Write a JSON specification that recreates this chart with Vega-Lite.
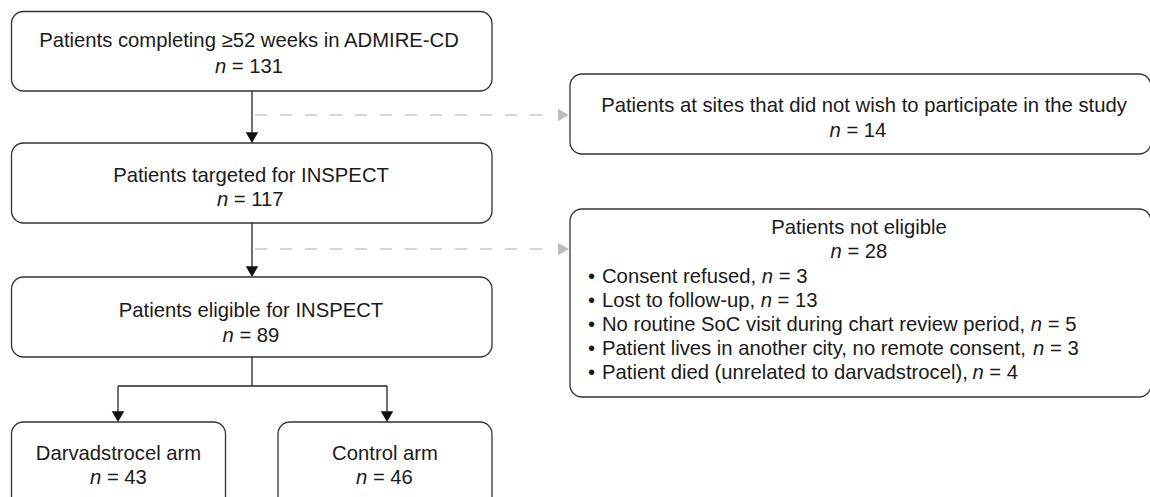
{
  "$schema": "https://vega.github.io/schema/vega-lite/v6.json",
  "width": 1150,
  "height": 497,
  "autosize": {"type": "none"},
  "padding": 0,
  "background": "white",
  "config": {"view": {"stroke": null}},
  "datasets": {
    "boxes": [
      {"x1": 11.5, "x2": 492, "y1": 11.5, "y2": 91},
      {"x1": 11.5, "x2": 492, "y1": 143, "y2": 223},
      {"x1": 11.5, "x2": 492, "y1": 277, "y2": 357},
      {"x1": 11.5, "x2": 225.5, "y1": 422, "y2": 515},
      {"x1": 278, "x2": 492, "y1": 422, "y2": 515},
      {"x1": 570, "x2": 1151, "y1": 74, "y2": 154},
      {"x1": 570, "x2": 1151, "y1": 209, "y2": 397}
    ],
    "lines": [
      {"x1": 252, "y1": 91, "x2": 252, "y2": 137},
      {"x1": 252, "y1": 223, "x2": 252, "y2": 271},
      {"x1": 252, "y1": 357, "x2": 252, "y2": 386},
      {"x1": 118, "y1": 386, "x2": 387, "y2": 386},
      {"x1": 118, "y1": 386, "x2": 118, "y2": 416},
      {"x1": 387, "y1": 386, "x2": 387, "y2": 416}
    ],
    "dashes": [
      {"x1": 255, "y1": 115, "x2": 548, "y2": 115},
      {"x1": 255, "y1": 249, "x2": 548, "y2": 249}
    ],
    "downheads": [
      {"x": 252, "y": 137.6},
      {"x": 252, "y": 271.6},
      {"x": 118, "y": 416.6},
      {"x": 387, "y": 416.6}
    ],
    "rightheads": [
      {"x": 563.5, "y": 115},
      {"x": 563.5, "y": 249}
    ],
    "titles": [
      {"x": 249, "y": 47, "t": "Patients completing ≥52 weeks in ADMIRE-CD"},
      {"x": 251, "y": 181.5, "t": "Patients targeted for INSPECT"},
      {"x": 251, "y": 316.5, "t": "Patients eligible for INSPECT"},
      {"x": 118.5, "y": 460, "t": "Darvadstrocel arm"},
      {"x": 385, "y": 460, "t": "Control arm"},
      {"x": 864, "y": 112, "t": "Patients at sites that did not wish to participate in the study"},
      {"x": 859, "y": 233.5, "t": "Patients not eligible"}
    ],
    "plain": [
      {"x": 231.8, "y": 73, "t": "=\u00a0131"},
      {"x": 233.8, "y": 205.5, "t": "=\u00a0117"},
      {"x": 239.4, "y": 341.5, "t": "=\u00a089"},
      {"x": 106.9, "y": 483.5, "t": "=\u00a043"},
      {"x": 372.9, "y": 483.5, "t": "=\u00a046"},
      {"x": 846.4, "y": 137, "t": "=\u00a014"},
      {"x": 847.4, "y": 258, "t": "=\u00a028"},
      {"x": 588, "y": 283, "t": "•"},
      {"x": 588, "y": 307, "t": "•"},
      {"x": 588, "y": 331, "t": "•"},
      {"x": 588, "y": 355, "t": "•"},
      {"x": 588, "y": 379, "t": "•"},
      {"x": 602, "y": 283, "t": "Consent refused,"},
      {"x": 602, "y": 307, "t": "Lost to follow-up,"},
      {"x": 602, "y": 331, "t": "No routine SoC visit during chart review period,"},
      {"x": 602, "y": 355, "t": "Patient lives in another city, no remote consent,"},
      {"x": 602, "y": 379, "t": "Patient died (unrelated to darvadstrocel),"},
      {"x": 778.7, "y": 283, "t": "=\u00a03"},
      {"x": 777.6, "y": 307, "t": "=\u00a013"},
      {"x": 1047.7, "y": 331, "t": "=\u00a05"},
      {"x": 1050.0, "y": 355, "t": "=\u00a03"},
      {"x": 989.3, "y": 379, "t": "=\u00a04"}
    ],
    "italic": [
      {"x": 214.9, "y": 73, "t": "n"},
      {"x": 216.9, "y": 205.5, "t": "n"},
      {"x": 222.6, "y": 341.5, "t": "n"},
      {"x": 90.1, "y": 483.5, "t": "n"},
      {"x": 356.1, "y": 483.5, "t": "n"},
      {"x": 829.6, "y": 137, "t": "n"},
      {"x": 830.6, "y": 258, "t": "n"},
      {"x": 761.8, "y": 283, "t": "n"},
      {"x": 760.7, "y": 307, "t": "n"},
      {"x": 1030.8, "y": 331, "t": "n"},
      {"x": 1033.1, "y": 355, "t": "n"},
      {"x": 972.4, "y": 379, "t": "n"}
    ]
  },
  "layer": [
    {
      "data": {"name": "boxes"},
      "mark": {"type": "rect", "cornerRadius": 12, "fill": "white", "stroke": "#333333", "strokeWidth": 1.3},
      "encoding": {
        "x": {"field": "x1", "type": "quantitative", "scale": {"domain": [0, 1150], "nice": false, "zero": false}, "axis": null},
        "x2": {"field": "x2"},
        "y": {"field": "y1", "type": "quantitative", "scale": {"domain": [0, 497], "nice": false, "zero": false, "reverse": true}, "axis": null},
        "y2": {"field": "y2"}
      }
    },
    {
      "data": {"name": "lines"},
      "mark": {"type": "rule", "color": "#222222", "strokeWidth": 1.3},
      "encoding": {
        "x": {"field": "x1", "type": "quantitative", "scale": {"domain": [0, 1150], "nice": false, "zero": false}, "axis": null},
        "x2": {"field": "x2"},
        "y": {"field": "y1", "type": "quantitative", "scale": {"domain": [0, 497], "nice": false, "zero": false, "reverse": true}, "axis": null},
        "y2": {"field": "y2"}
      }
    },
    {
      "data": {"name": "dashes"},
      "mark": {"type": "rule", "color": "#c8c8c8", "strokeWidth": 1.3, "strokeDash": [12, 13]},
      "encoding": {
        "x": {"field": "x1", "type": "quantitative", "scale": {"domain": [0, 1150], "nice": false, "zero": false}, "axis": null},
        "x2": {"field": "x2"},
        "y": {"field": "y1", "type": "quantitative", "scale": {"domain": [0, 497], "nice": false, "zero": false, "reverse": true}, "axis": null},
        "y2": {"field": "y2"}
      }
    },
    {
      "data": {"name": "downheads"},
      "mark": {"type": "point", "shape": "triangle-down", "filled": true, "color": "#111111", "size": 156, "opacity": 1},
      "encoding": {
        "x": {"field": "x", "type": "quantitative", "scale": {"domain": [0, 1150], "nice": false, "zero": false}, "axis": null},
        "y": {"field": "y", "type": "quantitative", "scale": {"domain": [0, 497], "nice": false, "zero": false, "reverse": true}, "axis": null}
      }
    },
    {
      "data": {"name": "rightheads"},
      "mark": {"type": "point", "shape": "triangle-right", "filled": true, "color": "#bdbdbd", "size": 161, "opacity": 1},
      "encoding": {
        "x": {"field": "x", "type": "quantitative", "scale": {"domain": [0, 1150], "nice": false, "zero": false}, "axis": null},
        "y": {"field": "y", "type": "quantitative", "scale": {"domain": [0, 497], "nice": false, "zero": false, "reverse": true}, "axis": null}
      }
    },
    {
      "data": {"name": "titles"},
      "mark": {"type": "text", "align": "center", "baseline": "alphabetic", "font": "Liberation Sans", "fontSize": 20.25, "color": "#1a1a1a"},
      "encoding": {
        "x": {"field": "x", "type": "quantitative", "scale": {"domain": [0, 1150], "nice": false, "zero": false}, "axis": null},
        "y": {"field": "y", "type": "quantitative", "scale": {"domain": [0, 497], "nice": false, "zero": false, "reverse": true}, "axis": null},
        "text": {"field": "t"}
      }
    },
    {
      "data": {"name": "plain"},
      "mark": {"type": "text", "align": "left", "baseline": "alphabetic", "font": "Liberation Sans", "fontSize": 20.25, "color": "#1a1a1a"},
      "encoding": {
        "x": {"field": "x", "type": "quantitative", "scale": {"domain": [0, 1150], "nice": false, "zero": false}, "axis": null},
        "y": {"field": "y", "type": "quantitative", "scale": {"domain": [0, 497], "nice": false, "zero": false, "reverse": true}, "axis": null},
        "text": {"field": "t"}
      }
    },
    {
      "data": {"name": "italic"},
      "mark": {"type": "text", "align": "left", "baseline": "alphabetic", "font": "Liberation Sans", "fontStyle": "italic", "fontSize": 20.25, "color": "#1a1a1a"},
      "encoding": {
        "x": {"field": "x", "type": "quantitative", "scale": {"domain": [0, 1150], "nice": false, "zero": false}, "axis": null},
        "y": {"field": "y", "type": "quantitative", "scale": {"domain": [0, 497], "nice": false, "zero": false, "reverse": true}, "axis": null},
        "text": {"field": "t"}
      }
    }
  ]
}
